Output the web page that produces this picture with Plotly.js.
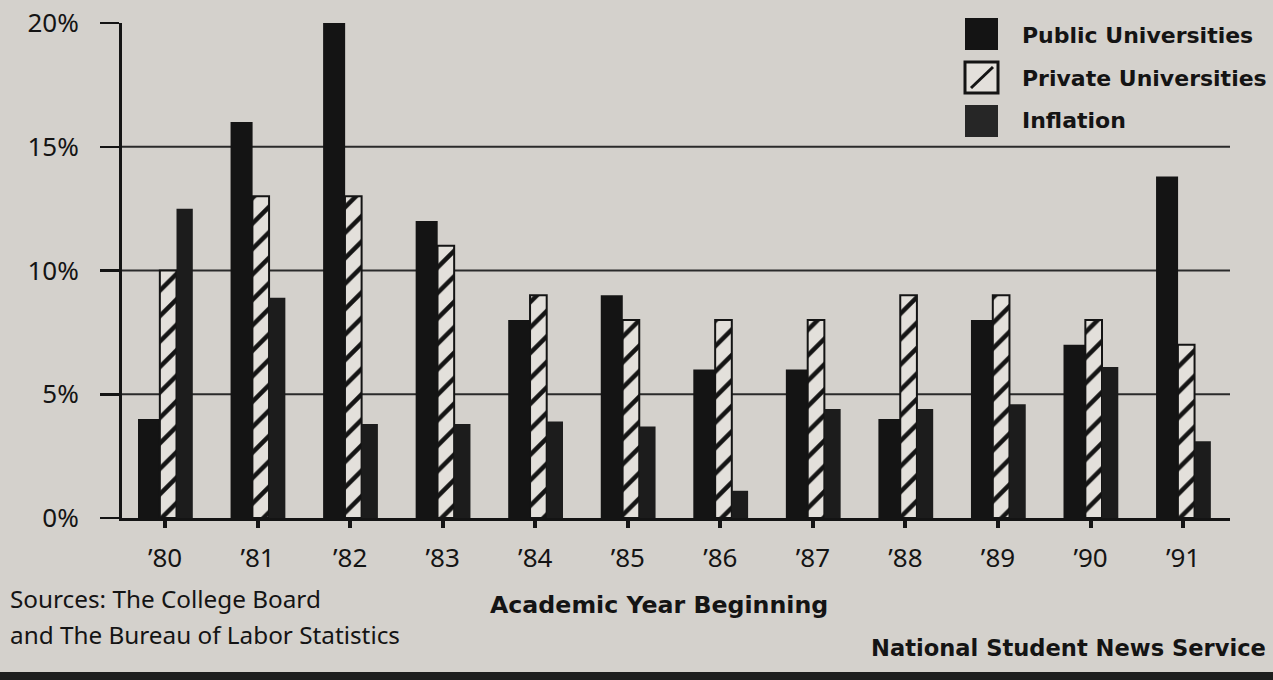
<!DOCTYPE html>
<html>
<head>
<meta charset="utf-8">
<script src="https://cdn.plot.ly/plotly-3.0.1.min.js"></script>
<style>html,body{margin:0;padding:0;background:#d4d1cc;}#chart{width:1273px;height:680px;}</style>
</head>
<body>
<div id="chart"></div>
<script>
// ---- data ----
const years = ["’80","’81","’82","’83","’84","’85","’86","’87","’88","’89","’90","’91"];
const seriesNames = ["Public Universities", "Private Universities", "Inflation"];
const publicUniv  = [4, 16, 20, 12, 8, 9, 6, 6, 4, 8, 7, 13.8];
const privateUniv = [10, 13, 13, 11, 9, 8, 8, 8, 9, 9, 8, 7];
const inflation   = [12.5, 8.9, 3.8, 3.8, 3.9, 3.7, 1.1, 4.4, 4.4, 4.6, 6.1, 3.1];
const yTickVals = [0, 5, 10, 15, 20];
const yTickText = ["0%", "5%", "10%", "15%", "20%"];
const gridVals = [5, 10, 15];
const sourceLines = ["Sources: The College Board", "and The Bureau of Labor Statistics"];
const xTitle = "Academic Year Beginning";
const credit = "National Student News Service";

const BG = "#d4d1cc";
const INK = "#141414";
const LIGHT = "#e3e0db";
const FONT = "Noto Sans, sans-serif";
const BOLD = "DejaVu Sans, sans-serif";

const traces = [
  {type:"bar", name:seriesNames[0], x:years, y:publicUniv, width:0.238, offset:-0.292,
   marker:{color:INK, line:{width:0}}, showlegend:false},
  {type:"bar", name:seriesNames[1], x:years, y:privateUniv, width:0.18, offset:-0.056,
   marker:{color:LIGHT, line:{color:INK, width:2},
     pattern:{shape:"/", size:18, solidity:0.25, fgcolor:INK, bgcolor:LIGHT, fillmode:"replace"}},
   showlegend:false},
  {type:"bar", name:seriesNames[2], x:years, y:inflation, width:0.176, offset:0.124,
   marker:{color:"#1c1c1c", line:{width:0}}, showlegend:false}
];

const L = 122, R = 1230, T = 23, B = 518, W = 1273, H = 680;
const px = v => (v - L) / (R - L);
const py = v => (B - v) / (B - T);

const shapes = [];
gridVals.forEach(g => shapes.push({type:"line", xref:"paper", yref:"y", x0:0, x1:1, y0:g, y1:g,
  line:{color:"#2a2a2a", width:2}, layer:"below"}));
// bottom dark strip of the clipping
shapes.push({type:"rect", xref:"paper", yref:"paper", x0:px(-5), x1:px(W+5), y0:py(H+5), y1:py(672),
  fillcolor:"#1e1e1e", line:{width:0}});
// legend swatches
const sw = [[18,50],[62,93],[105,137]];
const swFill = [INK, LIGHT, "#262626"];
sw.forEach((s,i) => shapes.push({type:"rect", xref:"paper", yref:"paper",
  x0:px(965), x1:px(998), y0:py(s[1]), y1:py(s[0]), fillcolor:swFill[i],
  line:{color:INK, width: i===1 ? 3 : 0}}));
shapes.push({type:"line", xref:"paper", yref:"paper", x0:px(971), y0:py(88), x1:px(993), y1:py(67),
  line:{color:INK, width:3}});

const annotations = [];
const legY = [35, 78, 120];
seriesNames.forEach((n,i) => annotations.push({xref:"paper", yref:"paper", x:px(1020), y:py(legY[i]),
  xanchor:"left", yanchor:"middle", showarrow:false, text:"<b>"+n+"</b>",
  font:{family:BOLD, size:22, color:INK}}));
annotations.push({xref:"paper", yref:"paper", x:px(8), y:py(598), xanchor:"left", yanchor:"middle",
  showarrow:false, text:sourceLines[0], font:{family:FONT, size:24.3, color:INK}});
annotations.push({xref:"paper", yref:"paper", x:px(8), y:py(634), xanchor:"left", yanchor:"middle",
  showarrow:false, text:sourceLines[1], font:{family:FONT, size:24.3, color:INK}});
annotations.push({xref:"paper", yref:"paper", x:px(659), y:py(605), xanchor:"center", yanchor:"middle",
  showarrow:false, text:"<b>"+xTitle+"</b>", font:{family:BOLD, size:23.7, color:INK}});
annotations.push({xref:"paper", yref:"paper", x:px(1268), y:py(648), xanchor:"right", yanchor:"middle",
  showarrow:false, text:"<b>"+credit+"</b>", font:{family:BOLD, size:22.6, color:INK}});

const layout = {
  width:W, height:H,
  margin:{l:L, r:W-R, t:T, b:H-B, pad:0},
  paper_bgcolor:BG, plot_bgcolor:BG,
  barmode:"overlay",
  showlegend:false,
  font:{family:FONT, color:INK},
  xaxis:{type:"category", range:[-0.465, 11.507], showgrid:false, zeroline:false,
    showline:true, linecolor:INK, linewidth:3,
    ticks:"outside", ticklen:7, tickwidth:4, tickcolor:INK,
    tickfont:{family:FONT, size:26, color:INK}, ticklabelstandoff:8, fixedrange:true},
  yaxis:{range:[0,20], showgrid:false, zeroline:false, showline:true, linecolor:INK, linewidth:3,
    tickvals:yTickVals, ticktext:yTickText, ticks:"outside", ticklen:19, tickwidth:2.5, tickcolor:INK,
    tickfont:{family:FONT, size:26, color:INK}, ticklabelstandoff:16, fixedrange:true},
  shapes:shapes, annotations:annotations
};

Plotly.newPlot("chart", traces, layout, {displayModeBar:false, staticPlot:true});
</script>
</body>
</html>
